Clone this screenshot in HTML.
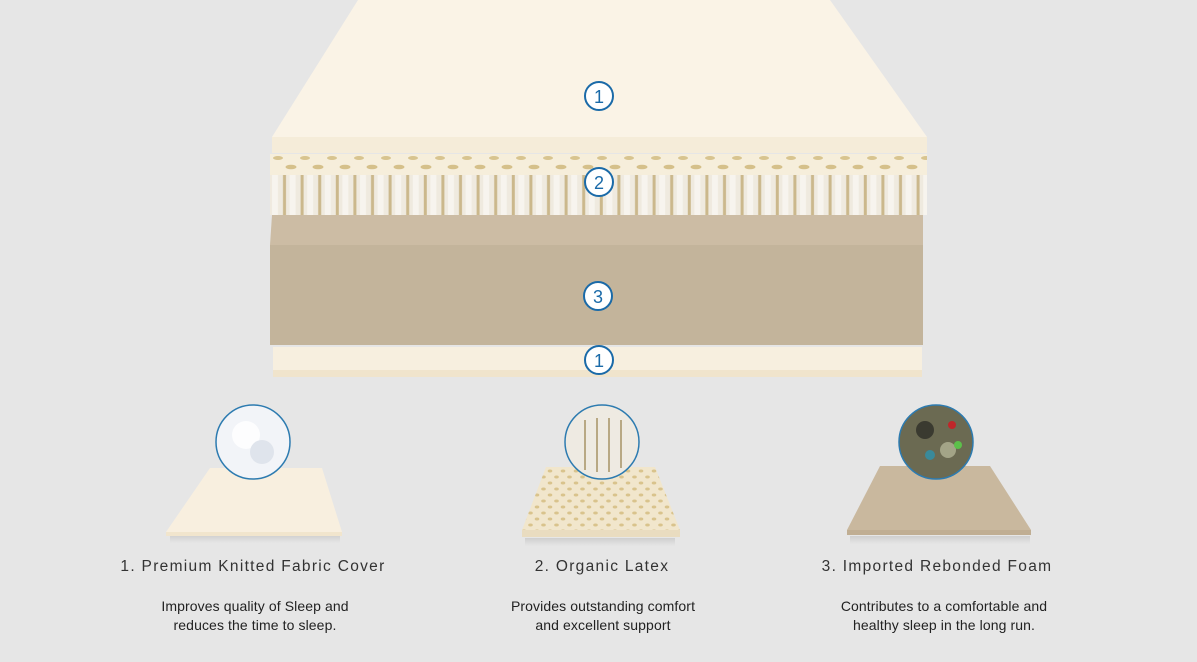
<!DOCTYPE html>
<html><head><meta charset="utf-8"><style>
html,body{margin:0;padding:0;background:#e6e6e6;}
svg{display:block}
text{font-family:"Liberation Sans",Arial,sans-serif;}
</style></head><body>
<svg width="1197" height="662" viewBox="0 0 1197 662" xmlns="http://www.w3.org/2000/svg">
<defs>
<pattern id="cols" x="270" y="0" width="17.6" height="60" patternUnits="userSpaceOnUse">
<rect width="17.6" height="60" fill="#efeadf"/>
<rect x="2" width="6" height="60" fill="#f7f4ee"/>
<rect x="13" width="3" height="60" fill="#cbb88c"/>
</pattern>
<pattern id="holes" x="270" y="154" width="27" height="20" patternUnits="userSpaceOnUse">
<rect width="27" height="20" fill="#f6eedb"/>
<ellipse cx="8" cy="4" rx="5" ry="2" fill="#d8c48f"/>
<ellipse cx="21" cy="13" rx="5.5" ry="2.3" fill="#d5c08a"/>
</pattern>
<pattern id="dots" x="0" y="0" width="13" height="12" patternUnits="userSpaceOnUse">
<rect width="13" height="12" fill="#f1e6cc"/>
<ellipse cx="4" cy="3" rx="2.3" ry="1.5" fill="#d9c38c"/>
<ellipse cx="10.5" cy="9" rx="2.3" ry="1.5" fill="#d9c38c"/>
</pattern>
<linearGradient id="shadow" x1="0" y1="0" x2="0" y2="1"><stop offset="0" stop-color="#cfcfcf"/><stop offset="1" stop-color="#e6e6e6"/></linearGradient>
</defs>
<!-- top layer -->
<polygon points="358,0 830,0 927,137 272,137" fill="#faf3e6"/>
<rect x="272" y="137" width="655" height="16" fill="#f5ecd9"/>
<!-- latex -->
<rect x="270" y="154" width="657" height="21" fill="url(#holes)"/>
<rect x="270" y="175" width="657" height="40" fill="url(#cols)"/>
<!-- foam -->
<polygon points="272,215 923,215 923,245 270,245" fill="#ccbca4"/>
<rect x="270" y="245" width="653" height="100" fill="#c3b49b"/>
<!-- bottom layer -->
<rect x="273" y="347" width="649" height="30" fill="#f7efdf"/>
<rect x="273" y="370" width="649" height="7" fill="#f0e4cc"/>
<!-- number circles -->
<g fill="#fff" stroke="#1a6aa8" stroke-width="2">
<circle cx="599" cy="96" r="14"/><circle cx="599" cy="182" r="14"/><circle cx="598" cy="296" r="14"/><circle cx="599" cy="360" r="14"/>
</g>
<g fill="#1a6aa8" font-size="18" text-anchor="middle">
<text x="599" y="103">1</text><text x="599" y="189">2</text><text x="598" y="303">3</text><text x="599" y="367">1</text>
</g>
<!-- bottom items -->
<rect x="170" y="535" width="170" height="8" fill="url(#shadow)"/>
<polygon points="210,468 322,468 342,532 166,532" fill="#f8efdf"/>
<rect x="166" y="532" width="176" height="4" fill="#f1e5cd"/>
<rect x="525" y="538" width="150" height="8" fill="url(#shadow)"/>
<polygon points="546,467 655,467 680,530 522,530" fill="url(#dots)"/>
<rect x="522" y="530" width="158" height="7" fill="#e9dcc0"/>
<rect x="850" y="536" width="180" height="8" fill="url(#shadow)"/>
<polygon points="880,466 990,466 1031,530 847,530" fill="#c9b89e"/>
<rect x="847" y="530" width="184" height="5" fill="#c0ae93"/>
<circle cx="253" cy="442" r="37" fill="#f2f4f8" stroke="#2d7bb0" stroke-width="1.5"/>
<circle cx="246" cy="435" r="14" fill="#fff" opacity=".8"/><circle cx="262" cy="452" r="12" fill="#dfe4ec"/>
<circle cx="602" cy="442" r="37" fill="#eeeae2" stroke="#2d7bb0" stroke-width="1.5"/>
<g stroke="#b8a884" stroke-width="2"><line x1="585" y1="420" x2="585" y2="470"/><line x1="597" y1="418" x2="597" y2="472"/><line x1="609" y1="418" x2="609" y2="472"/><line x1="621" y1="420" x2="621" y2="468"/></g>
<circle cx="936" cy="442" r="37" fill="#6b6a52" stroke="#2d7bb0" stroke-width="1.5"/>
<circle cx="925" cy="430" r="9" fill="#3a3a30"/><circle cx="948" cy="450" r="8" fill="#a3a487"/><circle cx="952" cy="425" r="4" fill="#c0262a"/><circle cx="930" cy="455" r="5" fill="#3a8a9a"/><circle cx="958" cy="445" r="4" fill="#5cc04a"/>
<g fill="#333" font-size="15.5" letter-spacing="1.3" text-anchor="middle">
<text x="253" y="571">1. Premium Knitted Fabric Cover</text>
<text x="602" y="571">2. Organic Latex</text>
<text x="937" y="571">3. Imported Rebonded Foam</text>
</g>
<g fill="#222" font-size="14" text-anchor="middle" letter-spacing="0.1">
<text x="255" y="611">Improves quality of Sleep and</text>
<text x="255" y="630">reduces the time to sleep.</text>
<text x="603" y="611">Provides outstanding comfort</text>
<text x="603" y="630">and excellent support</text>
<text x="944" y="611">Contributes to a comfortable and</text>
<text x="944" y="630">healthy sleep in the long run.</text>
</g>
</svg>
</body></html>
